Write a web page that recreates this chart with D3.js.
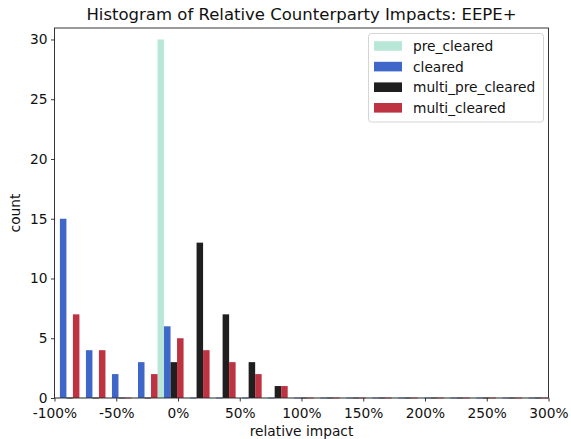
<!DOCTYPE html>
<html>
<head>
<meta charset="utf-8">
<script src="https://cdn.jsdelivr.net/npm/d3@7"></script>
<style>
  html, body { margin: 0; padding: 0; background: #fff; }
  svg { display: block; font-family: "DejaVu Sans", sans-serif; }
</style>
</head>
<body>
<svg id="chart" width="571" height="439"></svg>
<script>
// ---- data ----
const seriesNames = ["pre_cleared", "cleared", "multi_pre_cleared", "multi_cleared"];
const seriesColors = ["#b8e6d7", "#3f66c9", "#1f1f1f", "#bd3341"];
const binStart = -100.9;   // left edge of first bin (%)
const binWidth = 21.08;    // bin width (%)
const preCleared      = [0, 0, 0, 0, 30, 0, 0, 0, 0, 0, 0, 0, 0, 0, 0, 0, 0, 0, 0, 0];
const cleared         = [15, 4, 2, 3, 6, 0, 0, 0, 0, 0, 0, 0, 0, 0, 0, 0, 0, 0, 0, 0];
const multiPreCleared = [0, 0, 0, 0, 3, 13, 7, 3, 1, 0, 0, 0, 0, 0, 0, 0, 0, 0, 0, 0];
const multiCleared    = [7, 4, 0, 2, 5, 4, 3, 2, 1, 0, 0, 0, 0, 0, 0, 0, 0, 0, 0, 0];
const xTicks = [-100, -50, 0, 50, 100, 150, 200, 250, 300];
const yTicks = [0, 5, 10, 15, 20, 25, 30];
const titleText = "Histogram of Relative Counterparty Impacts: EEPE+";
const xLabel = "relative impact";
const yLabel = "count";

const allSeries = [preCleared, cleared, multiPreCleared, multiCleared];

// ---- layout ----
const svg = d3.select("#chart");
const mLeft = 54.5, mRight = 548.5, mTop = 28, mBottom = 398;
const x = d3.scaleLinear().domain([-100, 300]).range([mLeft, mRight]);
const y = d3.scaleLinear().domain([0, 30.96]).range([mBottom, mTop]);

svg.append("defs").append("clipPath").attr("id", "clip")
  .append("rect").attr("x", mLeft).attr("y", mTop).attr("width", mRight - mLeft).attr("height", mBottom - mTop + 2);

const barW = (x(binWidth) - x(0)) / seriesNames.length;

const bars = svg.append("g").attr("clip-path", "url(#clip)");
allSeries.forEach((vals, s) => {
  bars.selectAll(null).data(vals).enter().append("rect")
    .attr("x", (d, i) => x(binStart + i * binWidth) + s * barW)
    .attr("width", barW)
    .attr("y", d => d > 0 ? y(d) : mBottom - 0.8)
    .attr("height", d => d > 0 ? mBottom - y(d) : 1.6)
    .attr("fill", seriesColors[s])
    .attr("opacity", d => d > 0 ? 1 : 0.55);
});

// ---- axes ----
const fs = 13.75;
const xAxis = d3.axisBottom(x).tickValues(xTicks).tickFormat(d => d + "%").tickSize(3.5).tickPadding(6.5);
const yAxis = d3.axisLeft(y).tickValues(yTicks).tickSize(3.5).tickPadding(3.5);

const gx = svg.append("g").attr("transform", `translate(0,${mBottom})`).call(xAxis);
const gy = svg.append("g").attr("transform", `translate(${mLeft},0)`).call(yAxis);
[gx, gy].forEach(g => {
  g.select(".domain").remove();
  g.selectAll(".tick line").attr("stroke", "#222").attr("stroke-width", 0.9);
  g.selectAll(".tick text").attr("fill", "#111").style("font-size", fs + "px").style("font-family", "DejaVu Sans");
});

// frame (spines)
svg.append("rect").attr("x", mLeft).attr("y", mTop).attr("width", mRight - mLeft).attr("height", mBottom - mTop)
  .attr("fill", "none").attr("stroke", "#222").attr("stroke-width", 0.9);

// ---- labels ----
svg.append("text").attr("x", (mLeft + mRight) / 2).attr("y", 20).attr("text-anchor", "middle")
  .style("font-size", "16.5px").attr("fill", "#111").text(titleText);
svg.append("text").attr("x", (mLeft + mRight) / 2).attr("y", 436).attr("text-anchor", "middle")
  .style("font-size", fs + "px").attr("fill", "#111").text(xLabel);
svg.append("text").attr("transform", `translate(19.5,${(mTop + mBottom) / 2}) rotate(-90)`).attr("text-anchor", "middle")
  .style("font-size", fs + "px").attr("fill", "#111").text(yLabel);

// ---- legend ----
const lg = svg.append("g");
lg.append("rect").attr("x", 368.5).attr("y", 33.5).attr("width", 175).attr("height", 88.5)
  .attr("rx", 3).attr("fill", "#fff").attr("fill-opacity", 0.8).attr("stroke", "#d0d0d0").attr("stroke-width", 0.9);
seriesNames.forEach((name, i) => {
  const cy = 46 + i * 20.6;
  lg.append("rect").attr("x", 374).attr("y", cy - 4.8).attr("width", 28).attr("height", 9.6).attr("fill", seriesColors[i]);
  lg.append("text").attr("x", 413).attr("y", cy + 4.9).style("font-size", fs + "px").attr("fill", "#111").text(name);
});
</script>
</body>
</html>
